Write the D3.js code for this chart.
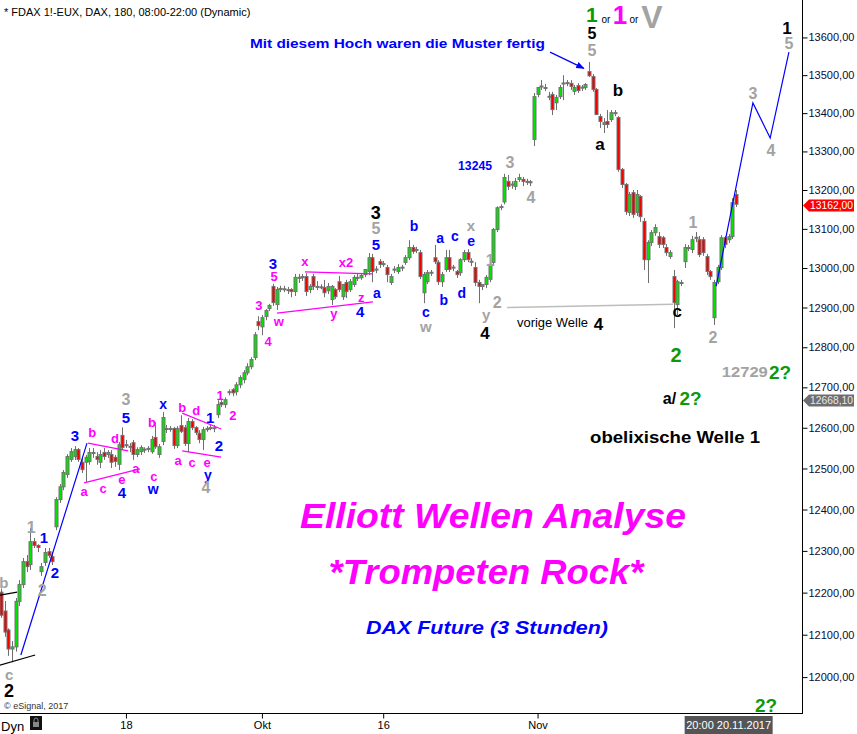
<!DOCTYPE html>
<html>
<head>
<meta charset="utf-8">
<script src="https://cdn.jsdelivr.net/npm/d3@7"></script>
<style>
  body { margin: 0; background: #fff; }
  svg { display: block; font-family: Arial, "Liberation Sans", sans-serif; }
</style>
</head>
<body>
<svg id="chart" width="857" height="734"></svg>
<script>
// FDAX 180 min candles (index = bar number)
const opens = [
  12200,12155,12110,12065,12070,12178,12218,12273,12266,12321,
  12312,12249,12271,12297,12285,12357,12423,12454,12484,12521,
  12528,12545,12514,12514,12516,12538,12528,12514,12538,12533,
  12533,12526,12509,12580,
  12555,12552,12562,12533,12540,12545,12546,12540,12575,12533,
  12565,12597,12597,12597,12555,12604,12599,12560,12614,12599,
  12585,12570,12594,12597,12599,12631,12661,12656,12688,12693,
  12688,12705,12718,12735,12750,
  12773,12863,12850,12876,12896,12952,12906,12947,12946,12944,
  12944,12939,12975,12974,12977,12944,12977,12952,12951,12949,
  12941,12919,12944,12964,12926,12962,12944,12957,12975,12974,
  12982,12990,13025,12995,13015,13010,13000,12962,12995,12990,
  13000,13013,13025,13051,13046,13038,12936,12964,12987,13025,
  13013,12964,12995,13025,13000,12990,12987,13020,13038,13015,
  13000,12962,12952,12957,12970,13013,13097,13155,13168,13221,
  13213,13208,13226,13226,13221,13220,
  13330,13448,13469,13466,13442,13448,13426,13442,13477,13479,
  13477,13456,13471,13466,13466,13508,13495,13461,13390,13369,
  13377,13382,13400,13387,13252,13213,13141,13192,13141,13182,
  13118,13020,13064,13089,13079,13076,13051,13028,12977,12906,
  12962,13015,13051,13046,13076,13071,13071,13028,12990,12873,
  12964,13000,13076,13071,13079,13187
];
const highs = [
  12210,12180,12115,12085,12187,12230,12283,12290,12355,12331,
  12316,12271,12307,12307,12297,12430,12462,12496,12535,12550,
  12555,12550,12526,12533,12550,12550,12540,12545,12550,12545,
  12545,12533,12565,12601,
  12570,12562,12570,12552,12557,12552,12555,12580,12614,12560,
  12639,12607,12604,12602,12604,12631,12607,12624,12621,12604,
  12594,12602,12604,12607,12607,12668,12668,12675,12695,12698,
  12713,12730,12743,12760,12775,
  12838,12878,12881,12896,12909,12960,12952,12955,12955,12952,
  12949,12985,12985,12985,12987,12959,12985,12967,12959,12970,
  12962,12957,12949,12980,12959,12970,12972,12982,12985,12987,
  12997,13038,13036,13005,13023,13018,13008,12985,13005,13010,
  13008,13033,13071,13059,13054,13046,12990,12995,12995,13059,
  13020,12990,13046,13046,13008,12995,13025,13046,13048,13025,
  13015,12970,12959,12982,13015,13102,13158,13163,13242,13239,
  13223,13231,13242,13234,13229,13226,
  13453,13469,13487,13477,13456,13456,13448,13474,13500,13487,
  13487,13474,13479,13474,13479,13535,13503,13466,13398,13387,
  13408,13408,13408,13392,13257,13218,13195,13200,13200,13187,
  13128,13071,13097,13112,13092,13082,13061,13046,12995,12970,
  12970,13061,13059,13082,13092,13082,13079,13036,12995,12970,
  13008,13084,13082,13087,13179,13200
];
const lows = [
  12140,12095,12050,12035,12060,12168,12211,12249,12254,12307,
  12297,12240,12264,12283,12266,12350,12416,12447,12477,12516,
  12521,12516,12489,12467,12509,12526,12509,12501,12521,12526,
  12501,12504,12496,12545,
  12550,12540,12521,12528,12533,12538,12540,12536,12548,12526,
  12557,12587,12590,12548,12550,12587,12555,12540,12594,12582,
  12562,12545,12590,12594,12589,12624,12651,12649,12680,12678,
  12680,12698,12710,12730,12745,
  12768,12843,12830,12868,12891,12904,12894,12939,12939,12934,
  12926,12929,12962,12967,12929,12936,12944,12944,12946,12926,
  12934,12906,12921,12939,12919,12924,12939,12952,12967,12970,
  12977,12982,12964,12987,13000,13003,12964,12957,12987,12985,
  12992,13008,13020,13036,13038,12972,12911,12959,12980,13010,
  12957,12952,12990,12990,12992,12975,12980,13015,13015,13005,
  12954,12911,12944,12949,12964,13005,13092,13148,13163,13200,
  13203,13200,13221,13210,13213,13210,
  13314,13442,13461,13458,13434,13395,13408,13437,13434,13471,
  13461,13448,13453,13458,13461,13495,13456,13395,13361,13348,
  13361,13377,13392,13247,13205,13136,13133,13128,13133,13118,
  12995,12962,13056,13082,13051,13051,13031,13023,12848,12881,
  12954,13000,13043,13038,13066,13028,13031,12982,12970,12856,
  12959,12995,13051,13064,13074,13156
];
const closes = [
  12145,12105,12065,12070,12178,12218,12273,12261,12321,12312,
  12307,12261,12295,12288,12273,12423,12454,12489,12528,12540,
  12545,12521,12496,12526,12538,12538,12521,12533,12528,12538,
  12514,12516,12557,12550,
  12557,12553,12533,12545,12550,12546,12548,12570,12552,12552,
  12624,12597,12596,12555,12597,12590,12560,12614,12599,12587,
  12570,12594,12597,12599,12597,12656,12656,12668,12687,12685,
  12705,12723,12735,12750,12768,
  12830,12853,12873,12891,12904,12911,12944,12946,12944,12942,
  12939,12975,12974,12977,12939,12952,12952,12951,12949,12936,
  12952,12952,12926,12944,12957,12939,12964,12975,12974,12980,
  12995,13025,12990,12996,13008,13010,12982,12977,12996,13000,
  13001,13025,13051,13041,13045,12977,12982,12987,12988,13015,
  12964,12982,13025,12995,13001,12982,13020,13038,13020,13016,
  12962,12952,12957,12975,13008,13097,13153,13156,13231,13208,
  13214,13221,13231,13221,13220,13218,
  13442,13466,13470,13465,13443,13408,13440,13466,13478,13477,
  13469,13466,13458,13467,13474,13497,13461,13395,13377,13374,
  13369,13400,13398,13252,13213,13143,13187,13136,13187,13130,
  13020,13064,13089,13102,13059,13059,13038,13038,12911,12964,
  12961,13051,13050,13071,13077,13033,13038,12990,12977,12962,
  13000,13076,13059,13079,13166,13162
];

const priceTicks = d3.range(12000, 13601, 100);
const timeTicks = [34, 71, 104, 146];
const timeLabels = ["18", "Okt", "16", "Nov"];
const lastPrice = 13162.00;
const markPrice = 12668.10;
const cursorBar = 198;
const cursorLabel = "20:00 20.11.2017";

// Elliott wave counts: [text, bar, price, colour, font size]
const waveLabels = [
  ["b", 0.8, 12223, "grey", 15], ["c", 2.2, 12005, "grey", 15], ["2", 2.2, 11969, "black", 18],
  ["1", 8.2, 12357, "grey", 16], ["1", 11.7, 12331, "blue", 15], ["2", 14.7, 12249, "blue", 15],
  ["2", 11.2, 12206, "grey", 16], ["3", 20.1, 12580, "blue", 15], ["b", 24.8, 12589, "pink", 13],
  ["d", 31.0, 12575, "pink", 13], ["a", 22.6, 12445, "pink", 13], ["c", 27.8, 12452, "pink", 13],
  ["e", 32.9, 12474, "pink", 13], ["4", 32.9, 12440, "blue", 15], ["a", 36.7, 12501, "pink", 13],
  ["3", 34.0, 12670, "grey", 16], ["5", 34.0, 12624, "blue", 15], ["b", 41.1, 12614, "pink", 13],
  ["c", 41.6, 12481, "pink", 13], ["w", 41.4, 12450, "blue", 14], ["x", 44.1, 12658, "blue", 14],
  ["b", 49.3, 12651, "pink", 13], ["d", 53.1, 12644, "pink", 13], ["1", 56.9, 12626, "blue", 15],
  ["2", 59.3, 12555, "blue", 15], ["a", 48.2, 12521, "pink", 13], ["c", 52.0, 12516, "pink", 13],
  ["e", 56.1, 12514, "pink", 13], ["y", 56.3, 12484, "blue", 14], ["4", 55.8, 12455, "grey", 16],
  ["1", 59.6, 12680, "pink", 13], ["2", 63.1, 12631, "pink", 13], ["3", 70.2, 12906, "pink", 13],
  ["4", 72.7, 12815, "pink", 13], ["w", 75.6, 12866, "pink", 13], ["3", 74.0, 13012, "blue", 15],
  ["5", 74.3, 12978, "pink", 13], ["x", 82.7, 13018, "pink", 13], ["x2", 93.9, 13015, "pink", 13],
  ["y", 90.6, 12886, "pink", 13], ["z", 98.0, 12926, "pink", 13], ["4", 97.7, 12889, "blue", 15],
  ["a", 102.3, 12936, "blue", 14], ["5", 102.0, 13059, "blue", 15], ["5", 102.0, 13102, "grey", 16],
  ["3", 102.0, 13143, "black", 18], ["b", 112.4, 13107, "blue", 14], ["c", 115.6, 12888, "blue", 14],
  ["w", 115.6, 12851, "grey", 15], ["a", 119.5, 13076, "blue", 14], ["b", 120.5, 12919, "blue", 14],
  ["c", 123.5, 13082, "blue", 14], ["d", 125.4, 12936, "blue", 14], ["e", 127.9, 13069, "blue", 14],
  ["x", 127.9, 13109, "grey", 15], ["1", 133.1, 13020, "grey", 16], ["2", 135.0, 12914, "grey", 16],
  ["y", 132.0, 12881, "grey", 15], ["4", 131.7, 12835, "black", 17], ["3", 138.5, 13273, "grey", 16],
  ["4", 144.2, 13182, "grey", 16], ["5", 160.8, 13610, "black", 16], ["5", 160.8, 13567, "grey", 16],
  ["b", 167.9, 13461, "black", 17], ["a", 163.0, 13320, "black", 17], ["1", 188.3, 13118, "grey", 16],
  ["c", 184.0, 12891, "black", 17], ["2", 183.7, 12781, "green", 20], ["2", 193.7, 12826, "grey", 16],
  ["3", 204.6, 13453, "grey", 16], ["4", 209.5, 13304, "grey", 16], ["1", 213.9, 13625, "black", 17],
  ["5", 214.4, 13585, "grey", 16]
];

// other chart notes: [text, bar, price, colour, size, weight, anchor, width]
const notes = [
  ["1", 160.8, 13662, "green", 21, "bold", "middle"],
  ["or", 164.6, 13649, "black", 10, "normal", "middle"],
  ["1", 168.4, 13660, "pink", 26, "bold", "middle"],
  ["or", 172.2, 13649, "black", 10, "normal", "middle"],
  ["V", 177.1, 13655, "grey", 32, "bold", "middle"],
  ["Mit diesem Hoch waren die Muster fertig", 148.0, 13585, "blue", 13, "bold", "end", 295],
  ["13245", 129.0, 13262, "blue", 12, "bold", "middle", 34],
  ["vorige Welle", 140.4, 12861, "black", 12.5, "normal", "start", 71],
  ["4", 162.6, 12858, "black", 17, "bold", "middle"],
  ["12729", 202.4, 12738, "grey", 14, "bold", "middle", 46],
  ["2?", 212.0, 12738, "green", 19, "bold", "middle"],
  ["a/", 180.1, 12673, "black", 16, "bold", "start"],
  ["2?", 184.6, 12673, "green", 19, "bold", "start"],
  ["obelixische Welle 1", 160.3, 12577, "black", 16, "bold", "start", 170],
  ["2?", 208.2, 11934, "green", 19, "bold", "middle"]
];

// drawn trend / channel lines: points as [bar, price]
const trendLines = [
  { c: "black", pts: [[-0.3, 12194], [4.4, 12201]] },
  { c: "black", pts: [[-0.3, 12028], [9.3, 12052]] },
  { c: "blue", pts: [[5.4, 12052], [23.4, 12562]] },
  { c: "pink", pts: [[23.7, 12562], [34.6, 12543]] },
  { c: "pink", pts: [[22.6, 12465], [37.8, 12499]] },
  { c: "pink", pts: [[49.3, 12636], [59.9, 12597]] },
  { c: "pink", pts: [[49.3, 12543], [59.9, 12528]] },
  { c: "pink", pts: [[82.7, 12990], [101.0, 12985]] },
  { c: "pink", pts: [[75.1, 12886], [101.2, 12914]] },
  { c: "light", pts: [[137.7, 12900], [182.9, 12908]] },
  { c: "blue", pts: [[194.6, 12954], [204.6, 13427], [209.3, 13335], [214.4, 13561]] }
];
const arrowPts = [[149.4, 13561], [158.6, 13518]];

const colours = {
  grey: "#a3a3a3", blue: "#0000ff", pink: "#ff00ff", black: "#000000",
  green: "#0c9a0c", light: "#bdbdbd"
};

const W = 802, H = 713;
const svg = d3.select("#chart");

const x = d3.scaleLinear().domain([0, 200]).range([1, 736]);
const y = d3.scaleLog().domain([11916, 13700]).range([H, 0]);

svg.append("defs").append("clipPath").attr("id", "plot")
  .append("rect").attr("width", W).attr("height", H);

svg.select("defs").append("marker")
  .attr("id", "arr").attr("viewBox", "0 0 10 10").attr("refX", 9).attr("refY", 5)
  .attr("markerWidth", 7).attr("markerHeight", 7).attr("orient", "auto")
  .append("path").attr("d", "M0,1 L10,5 L0,9 z").attr("fill", colours.blue);

const plot = svg.append("g").attr("clip-path", "url(#plot)");

// candles
const bars = d3.range(opens.length).map(i => ({
  i: i, o: opens[i], h: highs[i], l: lows[i], c: closes[i]
}));

const cg = plot.append("g");
cg.selectAll("line.wick").data(bars).enter().append("line")
  .attr("x1", d => Math.round(x(d.i)) + 0.5)
  .attr("x2", d => Math.round(x(d.i)) + 0.5)
  .attr("y1", d => y(d.h))
  .attr("y2", d => y(d.l))
  .attr("stroke", "#6f6f6f")
  .attr("stroke-width", 1);

cg.selectAll("rect.body").data(bars).enter().append("rect")
  .attr("x", d => Math.round(x(d.i)) - 1)
  .attr("width", 3)
  .attr("y", d => Math.min(y(d.o), y(d.c)) - 0.5)
  .attr("height", d => Math.max(1, Math.abs(y(d.o) - y(d.c))))
  .attr("fill", d => Math.abs(d.c - d.o) < 3 ? "#8a8a8a" : (d.c > d.o ? "#00e400" : "#f20000"))
  .attr("stroke", "#727272")
  .attr("stroke-width", 1);

// lines
const line = d3.line().x(d => x(d[0])).y(d => y(d[1]));
plot.append("g").selectAll("path").data(trendLines).enter().append("path")
  .attr("d", d => line(d.pts))
  .attr("fill", "none")
  .attr("stroke", d => colours[d.c])
  .attr("stroke-width", d => d.c === "light" ? 1.5 : 1.2);

plot.append("path")
  .attr("d", line(arrowPts))
  .attr("stroke", colours.blue).attr("stroke-width", 1.2)
  .attr("marker-end", "url(#arr)");

// wave labels
const lg = svg.append("g").attr("font-weight", "bold").attr("text-anchor", "middle");
lg.selectAll("text").data(waveLabels).enter().append("text")
  .attr("x", d => x(d[1]))
  .attr("y", d => y(d[2]))
  .attr("dy", "0.36em")
  .attr("font-size", d => d[4] + "px")
  .attr("fill", d => colours[d[3]])
  .text(d => d[0]);

const nt = svg.append("g").selectAll("text").data(notes).enter().append("text")
  .attr("x", d => x(d[1]))
  .attr("y", d => y(d[2]))
  .attr("dy", "0.36em")
  .attr("font-size", d => d[4] + "px")
  .attr("font-weight", d => d[5])
  .attr("text-anchor", d => d[6])
  .attr("fill", d => colours[d[3]])
  .text(d => d[0]);
nt.filter(d => d[7]).attr("textLength", d => d[7]).attr("lengthAdjust", "spacingAndGlyphs");

// titles
const titles = svg.append("g").attr("text-anchor", "middle")
  .attr("font-weight", "bold").attr("font-style", "italic");
titles.append("text").attr("x", 493).attr("y", 528).attr("font-size", "35px")
  .attr("textLength", 386).attr("lengthAdjust", "spacingAndGlyphs")
  .attr("fill", "#ff00ff").text("Elliott Wellen Analyse");
titles.append("text").attr("x", 486).attr("y", 584).attr("font-size", "35px")
  .attr("textLength", 315).attr("lengthAdjust", "spacingAndGlyphs")
  .attr("fill", "#ff00ff").text("*Trompeten Rock*");
titles.append("text").attr("x", 487).attr("y", 634).attr("font-size", "19px")
  .attr("textLength", 242).attr("lengthAdjust", "spacingAndGlyphs")
  .attr("fill", "#0000ff").text("DAX Future (3 Stunden)");

// header / footer
svg.append("text").attr("x", 4).attr("y", 16).attr("font-size", "11px")
  .text("* FDAX 1!-EUX, DAX, 180, 08:00-22:00 (Dynamic)");
svg.append("text").attr("x", 4).attr("y", 709).attr("font-size", "9px")
  .attr("fill", "#333").text("© eSignal, 2017");

// frame
svg.append("line").attr("x1", W + 0.5).attr("x2", W + 0.5).attr("y1", 0).attr("y2", H)
  .attr("stroke", "#000");
svg.append("line").attr("x1", 0).attr("x2", W + 1).attr("y1", H + 0.5).attr("y2", H + 0.5)
  .attr("stroke", "#000");

// price axis
const fmt = v => d3.format(".2f")(v).replace(".", ",");
const ya = svg.append("g").attr("transform", `translate(${W + 0.5},0)`)
  .call(d3.axisRight(y).tickValues(priceTicks).tickFormat(fmt).tickSize(5).tickPadding(1));
ya.select(".domain").remove();
ya.selectAll("text").attr("font-size", "11px").attr("font-family", "Arial, 'Liberation Sans', sans-serif")
  .attr("fill", "#0b0b33");

// time axis
const xa = svg.append("g").attr("transform", `translate(0,${H + 0.5})`)
  .call(d3.axisBottom(x).tickValues(timeTicks).tickFormat((d, i) => timeLabels[i]).tickSize(5).tickPadding(3));
xa.select(".domain").remove();
xa.selectAll("text").attr("font-size", "11px").attr("font-family", "Arial, 'Liberation Sans', sans-serif")
  .attr("fill", "#000");

svg.append("text").attr("x", 1).attr("y", 731).attr("font-size", "13px").text("Dyn");
svg.append("rect").attr("x", 30).attr("y", 716).attr("width", 12).attr("height", 14).attr("fill", "#111");
svg.append("rect").attr("x", 33).attr("y", 722).attr("width", 6).attr("height", 5).attr("fill", "#888");
svg.append("path").attr("d", "M34,722 v-2 a2,2 0 0 1 4,0 v2").attr("fill", "none").attr("stroke", "#888");

// price markers
function priceTag(v, fill, txt) {
  const py = Math.round(y(v)) + 0.5;
  svg.append("path")
    .attr("d", `M${W + 1},${py} L${W + 7},${py - 6} L${W + 52},${py - 6} L${W + 52},${py + 6} L${W + 7},${py + 6} Z`)
    .attr("fill", fill);
  svg.append("text").attr("x", W + 8).attr("y", py).attr("dy", "0.36em")
    .attr("font-size", "11px").attr("fill", txt)
    .attr("textLength", 43).attr("lengthAdjust", "spacingAndGlyphs")
    .text(fmt(v));
}
priceTag(lastPrice, "#ff0000", "#fff");
priceTag(markPrice, "#6e6e6e", "#e8e8e8");

// cursor time label
const cx = x(cursorBar);
svg.append("rect").attr("x", cx - 44).attr("y", 716).attr("width", 88).attr("height", 18).attr("fill", "#555");
svg.append("text").attr("x", cx).attr("y", 729).attr("text-anchor", "middle")
  .attr("font-size", "11px").attr("fill", "#fff").text(cursorLabel);
</script>
</body>
</html>
